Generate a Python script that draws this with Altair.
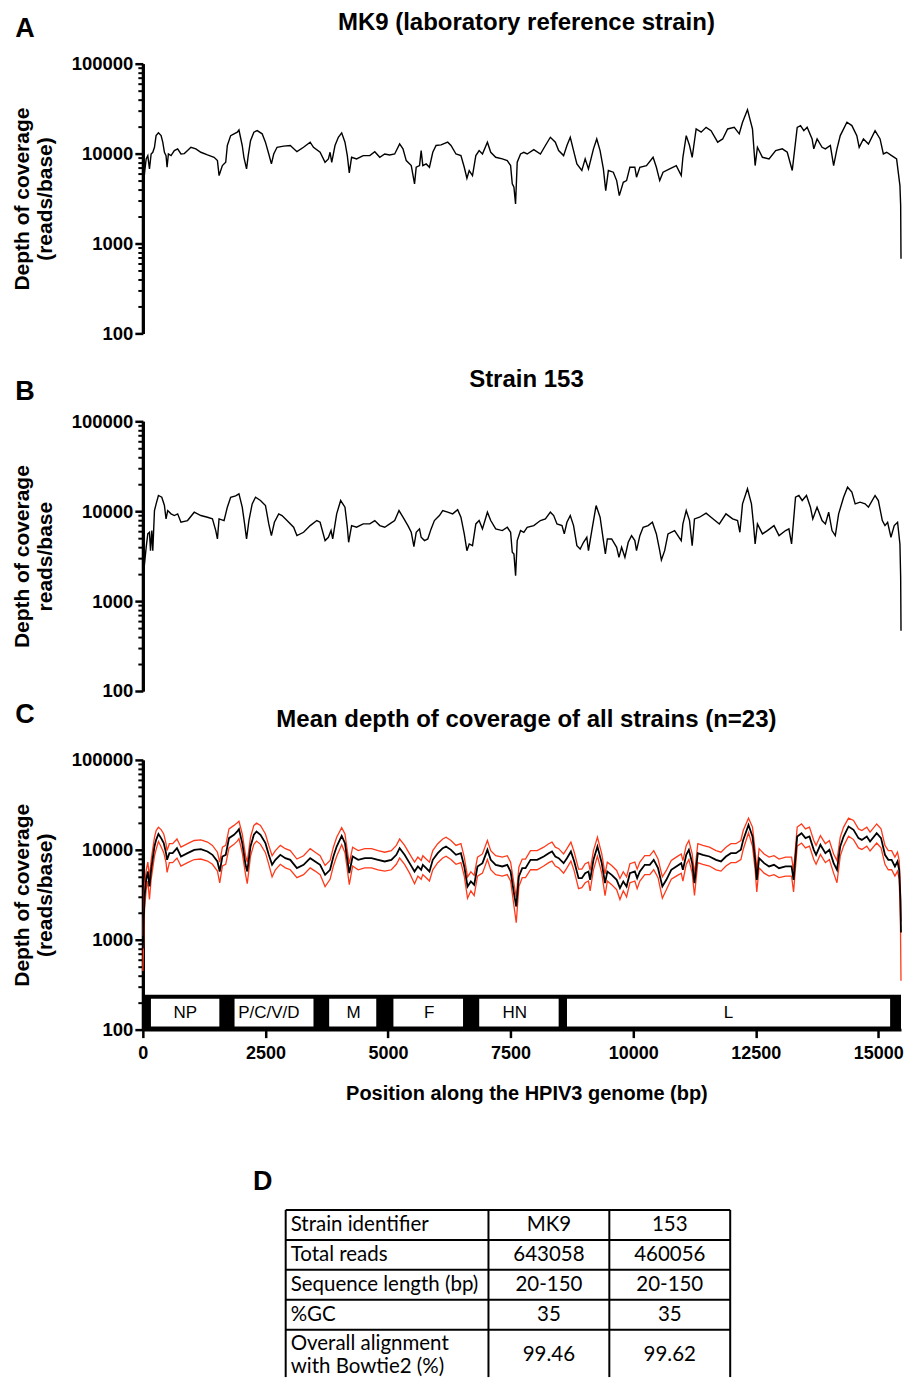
import altair as alt
import pandas as pd

# ---------------- data ----------------
# Panel A: MK9 (position bp, depth reads/base)
mk9_coverage = [
    (0, 3900), (40, 6500), (68, 8730), (101, 9500), (135, 6760), (169, 9900), (203, 10350),
    (237, 11750), (270, 15850), (318, 17000), (372, 15850), (406, 13400), (440, 10350),
    (473, 9500), (494, 7050), (521, 9900), (575, 9500), (642, 10800), (710, 11300),
    (777, 9900), (845, 10000), (912, 10800), (980, 11750), (1081, 11300), (1183, 10350),
    (1318, 9660), (1453, 9100), (1521, 8360), (1555, 5700), (1622, 7360), (1690, 8010),
    (1723, 12300), (1791, 15850), (1859, 16600), (1926, 17300), (1960, 18300), (2027, 12300),
    (2061, 9100), (2115, 6760), (2149, 9500), (2196, 13900), (2264, 17300), (2332, 18000),
    (2433, 16600), (2500, 13400), (2568, 9900), (2622, 7680), (2669, 9900), (2737, 11750),
    (2872, 12100), (3007, 12300), (3142, 10500), (3277, 11750), (3412, 13400), (3480, 11750),
    (3615, 10350), (3716, 8010), (3784, 8730), (3818, 10350), (3852, 8010), (3919, 12300),
    (3987, 15200), (4055, 17000), (4122, 13400), (4170, 9500), (4210, 6100), (4257, 9100),
    (4358, 8730), (4494, 9500), (4629, 9500), (4730, 10500), (4832, 9100), (4933, 9900),
    (5034, 9660), (5136, 9900), (5237, 12800), (5305, 11300), (5372, 8360), (5474, 7360),
    (5541, 4600), (5575, 7050), (5643, 7360), (5676, 10800), (5710, 7360), (5778, 7680),
    (5845, 7050), (5913, 10350), (5980, 12300), (6082, 12500), (6217, 13400), (6284, 12300),
    (6386, 9900), (6487, 9500), (6555, 7050), (6609, 5320), (6656, 6480), (6723, 5700),
    (6791, 9500), (6858, 10800), (6926, 9900), (7027, 13400), (7095, 10350), (7196, 9100),
    (7331, 8730), (7432, 8360), (7500, 7360), (7534, 4600), (7568, 4230), (7601, 2760),
    (7635, 8010), (7703, 9900), (7770, 10350), (7838, 9900), (7973, 11070), (8108, 9900),
    (8210, 12300), (8311, 15200), (8412, 13400), (8480, 10800), (8581, 9500), (8649, 12300),
    (8717, 15200), (8784, 10800), (8852, 7680), (8953, 6480), (9021, 8730), (9088, 6760),
    (9190, 11300), (9257, 14550), (9325, 10800), (9392, 6760), (9440, 3880), (9494, 6480),
    (9595, 6210), (9663, 5010), (9717, 3410), (9798, 4800), (9865, 5010), (9933, 7050),
    (10034, 7050), (10068, 5460), (10136, 7050), (10271, 7360), (10406, 9100), (10473, 7050),
    (10541, 5010), (10609, 6210), (10744, 6760), (10879, 7360), (10980, 5700), (11014, 9100),
    (11082, 15850), (11149, 12300), (11203, 9100), (11284, 18800), (11386, 17300),
    (11487, 19600), (11588, 18000), (11723, 13400), (11825, 14550), (11926, 18800),
    (12061, 19600), (12163, 16600), (12230, 22300), (12331, 30800), (12433, 18800),
    (12487, 7360), (12534, 11750), (12636, 9100), (12771, 8730), (12906, 10800),
    (13041, 11300), (13142, 10350), (13244, 6480), (13345, 19600), (13413, 20500),
    (13480, 18000), (13548, 19600), (13649, 14550), (13683, 11300), (13751, 14550),
    (13852, 11750), (13920, 11300), (14021, 12300), (14088, 7360), (14156, 11300),
    (14223, 15850), (14359, 22300), (14460, 20500), (14561, 15850), (14609, 11750),
    (14696, 14550), (14798, 12800), (14933, 18000), (15035, 14550), (15102, 9900),
    (15170, 10350), (15271, 9500), (15372, 8730), (15440, 4410), (15455, 2640), (15462, 676),
]

# Panel B: strain 153
s153_coverage = [
    (0, 1800), (34, 2590), (68, 3970), (101, 5590), (135, 5830), (156, 3640), (183, 6090),
    (203, 3640), (237, 10170), (271, 12070), (318, 14950), (386, 14300), (440, 11570),
    (473, 8210), (507, 10170), (575, 9340), (642, 8950), (710, 9340), (777, 7540),
    (912, 7870), (1048, 9750), (1183, 8950), (1318, 8570), (1419, 8210), (1487, 6090),
    (1521, 4910), (1554, 8210), (1656, 7870), (1723, 11080), (1791, 14300), (1892, 14800),
    (1960, 15600), (2027, 11080), (2075, 7220), (2115, 4910), (2163, 7870), (2230, 12070),
    (2298, 14300), (2399, 13150), (2501, 11570), (2568, 7220), (2622, 5350), (2683, 7540),
    (2771, 9340), (2838, 8950), (2940, 7870), (3075, 6630), (3142, 5350), (3278, 5830),
    (3413, 6920), (3548, 7870), (3615, 7540), (3717, 4710), (3784, 5130), (3838, 6090),
    (3872, 4910), (3953, 9340), (4034, 13150), (4122, 11080), (4170, 6630), (4197, 4510),
    (4257, 6920), (4359, 6630), (4494, 7220), (4629, 7220), (4730, 7870), (4832, 6920),
    (4933, 6630), (5035, 7220), (5136, 7870), (5224, 10170), (5305, 8570), (5406, 6920),
    (5474, 5830), (5528, 4040), (5575, 5830), (5642, 6360), (5676, 5130), (5744, 4710),
    (5811, 4910), (5879, 6360), (5946, 7870), (6048, 8950), (6116, 10170), (6217, 9750),
    (6318, 9340), (6420, 10400), (6487, 8570), (6555, 5590), (6609, 3640), (6656, 4320),
    (6723, 4140), (6791, 7220), (6858, 7870), (6926, 6360), (7027, 9750), (7095, 7870),
    (7196, 6360), (7331, 6090), (7433, 6630), (7500, 5830), (7534, 3490), (7568, 3340),
    (7602, 1920), (7635, 4710), (7703, 6090), (7770, 5830), (7838, 6630), (7973, 6920),
    (8108, 7870), (8210, 8210), (8311, 9750), (8379, 8950), (8446, 7220), (8548, 6920),
    (8595, 5590), (8649, 7540), (8717, 8950), (8784, 6920), (8852, 4140), (8919, 3800),
    (8987, 4510), (9054, 5130), (9088, 3640), (9156, 6090), (9244, 11570), (9325, 8570),
    (9393, 4710), (9433, 3340), (9473, 4910), (9561, 4910), (9663, 3970), (9710, 3070),
    (9764, 3970), (9831, 3070), (9899, 4510), (9967, 5350), (10034, 4710), (10068, 3640),
    (10136, 5350), (10203, 6630), (10305, 6920), (10392, 7540), (10473, 5590), (10541, 3640),
    (10575, 2860), (10642, 3640), (10710, 5590), (10845, 6090), (10980, 4710), (11014, 7220),
    (11082, 10170), (11149, 7870), (11203, 4140), (11250, 8210), (11352, 8570), (11487, 9500),
    (11588, 8570), (11757, 7220), (11892, 9340), (12028, 8210), (12129, 7870), (12176, 5830),
    (12230, 12070), (12331, 17750), (12412, 12070), (12453, 7220), (12487, 4320),
    (12534, 7220), (12636, 5590), (12737, 6090), (12872, 6920), (12974, 5350), (13109, 6090),
    (13176, 6360), (13230, 4320), (13311, 14300), (13379, 14950), (13447, 13150),
    (13534, 14950), (13615, 11080), (13663, 8210), (13750, 11080), (13852, 7870),
    (13920, 7220), (13987, 9750), (14055, 6090), (14122, 5350), (14190, 9340), (14291, 14300),
    (14372, 18500), (14460, 16300), (14527, 12070), (14629, 12600), (14730, 12070),
    (14798, 11080), (14933, 14950), (15000, 13150), (15081, 7870), (15135, 6920),
    (15189, 7540), (15257, 5130), (15324, 6920), (15392, 7540), (15440, 4320), (15455, 1840),
    (15462, 467),
]

# Panel C: mean of all strains with the red band lines
c_pos = [
    0, 34, 68, 101, 135, 169, 203, 237, 271, 318,
    372, 426, 473, 494, 541, 608, 696, 777, 912, 1048,
    1183, 1318, 1419, 1521, 1568, 1622, 1690, 1757, 1859, 1926,
    1960, 2027, 2095, 2129, 2196, 2264, 2318, 2399, 2500, 2568,
    2636, 2703, 2804, 2906, 3007, 3142, 3278, 3413, 3514, 3615,
    3717, 3818, 3886, 3953, 4055, 4122, 4170, 4210, 4278, 4392,
    4527, 4663, 4798, 4933, 5068, 5170, 5237, 5338, 5440, 5541,
    5609, 5676, 5710, 5778, 5845, 5913, 6014, 6116, 6183, 6284,
    6386, 6487, 6555, 6622, 6690, 6757, 6825, 6926, 7027, 7095,
    7196, 7331, 7432, 7500, 7568, 7615, 7669, 7737, 7804, 7906,
    8041, 8176, 8277, 8345, 8412, 8480, 8581, 8649, 8730, 8798,
    8886, 8953, 9021, 9088, 9122, 9190, 9271, 9359, 9426, 9473,
    9561, 9663, 9730, 9798, 9865, 9933, 10034, 10081, 10136, 10237,
    10338, 10419, 10507, 10595, 10676, 10777, 10879, 10980, 11014, 11082,
    11136, 11203, 11250, 11318, 11419, 11555, 11690, 11791, 11892, 11994,
    12095, 12196, 12244, 12352, 12433, 12487, 12521, 12568, 12670, 12771,
    12872, 12974, 13109, 13230, 13271, 13345, 13433, 13514, 13595, 13683,
    13730, 13818, 13920, 14001, 14088, 14156, 14223, 14291, 14392, 14494,
    14595, 14663, 14764, 14831, 14966, 15055, 15135, 15203, 15271, 15338,
    15390, 15425, 15450, 15462,
]
c_mean = [
    800, 3000, 4640, 5740, 3910, 5990, 8080, 10890, 12900, 15000,
    13490, 11860, 9180, 7740, 9180, 9180, 10430, 8430, 9180, 10000,
    10170, 9580, 8800, 7420, 5740, 8430, 8800, 13490, 14700, 16000,
    17000, 11860, 6810, 5740, 10890, 14700, 16000, 14700, 11860, 8800,
    6810, 7740, 8800, 8080, 7740, 6250, 6810, 8080, 7420, 6810,
    5270, 5990, 8430, 10890, 14300, 11860, 7740, 5500, 8430, 7740,
    8080, 8080, 7740, 7420, 7740, 8800, 10430, 8800, 7110, 5740,
    6530, 5990, 6810, 6250, 5740, 7740, 9180, 10430, 10890, 10000,
    8800, 9180, 6530, 3910, 4450, 4080, 6530, 7110, 10000, 7740,
    6810, 6530, 6810, 5740, 3300, 2340, 5050, 6250, 6250, 7740,
    7740, 8430, 9180, 9580, 8430, 8080, 7110, 8080, 9580, 7420,
    4840, 4840, 5500, 5740, 4640, 7740, 10890, 7110, 4260, 5740,
    5270, 4640, 3750, 4450, 3910, 5500, 5740, 4840, 5740, 6810,
    6810, 7740, 6250, 3910, 4640, 5990, 6530, 7110, 5990, 8800,
    10000, 7110, 4260, 9180, 8800, 8430, 7740, 7420, 8430, 9180,
    9180, 10000, 12900, 18900, 14060, 7740, 4640, 8080, 7110, 6530,
    6810, 6250, 6530, 6530, 4640, 14060, 15300, 13490, 14060, 10000,
    8800, 11370, 9180, 10000, 7110, 5990, 10890, 14060, 18200, 16700,
    13490, 12900, 14060, 12380, 15300, 13490, 8800, 7740, 7740, 6530,
    7420, 5990, 2780, 1200,
]
c_upper = [
    1100, 4000, 5900, 7300, 5000, 7600, 10300, 13800, 16400, 17800,
    16800, 15000, 11700, 9800, 11700, 11700, 13200, 10700, 11700, 12700,
    12900, 12200, 11200, 9400, 7300, 10700, 11200, 17100, 18700, 20000,
    20800, 15000, 8600, 7300, 13800, 18700, 19800, 18700, 15000, 11200,
    8600, 9800, 11200, 10300, 9800, 7900, 8600, 10300, 9400, 8600,
    6700, 7600, 10700, 13800, 17600, 15000, 9800, 7000, 10700, 9800,
    10300, 10300, 9800, 9400, 9800, 11200, 13200, 11200, 9000, 7300,
    8300, 7600, 8600, 7900, 7300, 9800, 11700, 13200, 13800, 12700,
    11200, 11700, 8300, 5000, 5700, 5200, 8300, 9000, 12700, 9800,
    8600, 8300, 8600, 7300, 4200, 3000, 6400, 7900, 7900, 9800,
    9800, 10700, 11700, 12200, 10700, 10300, 9000, 10300, 12200, 9400,
    6100, 6100, 7000, 7300, 5900, 9800, 13800, 9000, 5400, 7300,
    6700, 5900, 4800, 5700, 5000, 7000, 7300, 6100, 7300, 8600,
    8600, 9800, 7900, 5000, 5900, 7600, 8300, 9000, 7600, 11200,
    12700, 9000, 5400, 11700, 11200, 10700, 9800, 9400, 10700, 11700,
    11700, 12700, 16400, 22500, 17900, 9800, 5900, 10300, 9000, 8300,
    8600, 7900, 8300, 8300, 5900, 17900, 19400, 17100, 17900, 12700,
    11200, 14400, 11700, 12700, 9000, 7600, 13800, 17900, 22500, 21200,
    17100, 16400, 17900, 15700, 19400, 17100, 11200, 9800, 9800, 8300,
    9400, 7600, 3600, 1600,
]
c_lower = [
    450, 2200, 3600, 4500, 2800, 4700, 6300, 8500, 10100, 12400,
    10800, 9300, 7200, 5600, 7200, 7200, 8100, 6600, 7200, 7800,
    7900, 7500, 6900, 5800, 4300, 6600, 6900, 10500, 11500, 12500,
    13300, 9300, 5300, 4200, 8500, 11500, 12500, 11500, 9300, 6900,
    5000, 6000, 6900, 6300, 6000, 4900, 5300, 6300, 5800, 5300,
    3900, 4700, 6600, 8500, 11400, 9300, 6000, 4100, 6600, 6000,
    6300, 6300, 6000, 5800, 6000, 6900, 8100, 6900, 5500, 4200,
    5100, 4700, 5300, 4900, 4500, 6000, 7200, 8100, 8500, 7800,
    6900, 7200, 5100, 2900, 3500, 3100, 5100, 5500, 7800, 6000,
    5300, 5100, 5300, 4500, 2400, 1550, 3900, 4900, 4900, 6000,
    6000, 6600, 7200, 7500, 6600, 6300, 5500, 6300, 7500, 5800,
    3700, 3800, 4300, 4500, 3500, 6000, 8500, 5500, 3100, 4500,
    4100, 3600, 2800, 3500, 3000, 4300, 4500, 3700, 4500, 5300,
    5300, 6000, 4900, 2900, 3600, 4700, 5100, 5500, 4500, 6900,
    7800, 5500, 3100, 7200, 6900, 6600, 6000, 5800, 6600, 7200,
    7200, 7800, 10100, 15500, 11000, 6000, 3400, 6300, 5500, 5100,
    5300, 4900, 5100, 5100, 3400, 11000, 11900, 10500, 11000, 7800,
    6900, 8900, 7200, 7800, 5500, 4300, 8500, 11000, 14200, 13000,
    10500, 10100, 11000, 9700, 11900, 10500, 6900, 6000, 6000, 5100,
    5800, 4700, 1700, 350,
]

# Genome map (bp)
gene_names = ["NP", "P/C/V/D", "M", "F", "HN", "L"]
gene_start = [165, 1870, 3800, 5110, 6860, 8650]
gene_end = [1560, 3480, 4760, 6530, 8480, 15240]
gene_label_pos = [865, 2568, 4297, 5838, 7583, 11945]
GENOME_LEN = 15462

# Ticks
x_ticks = [0, 2500, 5000, 7500, 10000, 12500, 15000]
y_major = [100, 1000, 10000, 100000]
y_minor = [200, 300, 400, 500, 600, 700, 800, 900,
           2000, 3000, 4000, 5000, 6000, 7000, 8000, 9000,
           20000, 30000, 40000, 50000, 60000, 70000, 80000, 90000]

# Table D
table_rows = ["Strain identifier", "Total reads", "Sequence length (bp)", "%GC",
              "Overall alignment\nwith Bowtie2 (%)"]
table_mk9 = ["MK9", "643058", "20-150", "35", "99.46"]
table_153 = ["153", "460056", "20-150", "35", "99.62"]

# ---------------- layout / style ----------------
FONT = "Liberation Sans"
TFONT = "Lato"
W, H = 759, 270
LEFT = 135
TITLE_X = 384
RED = "#ff3a1a"

x_scale = alt.Scale(domain=[0, GENOME_LEN], nice=False, zero=False)
y_scale = alt.Scale(type="log", domain=[100, 100000], nice=False)


def y_major_axis(lines):
    return alt.Axis(values=y_major, format="d", orient="left", grid=False,
                    domainColor="black", domainWidth=3,
                    tickColor="black", tickSize=8, tickWidth=2.5,
                    labelFont=FONT, labelFontSize=18.5, labelFontWeight="bold",
                    labelColor="black", labelPadding=2, labelFlush=False,
                    labelOverlap=False,
                    title=lines, titleFont=FONT, titleFontSize=21,
                    titleFontWeight="bold", titleColor="black", titleLineHeight=23,
                    titleAngle=270, titleAlign="center", titleBaseline="middle",
                    titleX=-120.5, titleY=H / 2)


y_minor_axis = alt.Axis(values=y_minor, orient="left", grid=False, labels=False,
                        title=None, domainColor="black", domainWidth=3,
                        tickColor="black", tickSize=5, tickWidth=2)

x_axis_c = alt.Axis(values=x_ticks, format="d", grid=False, domainColor="black",
                    domainWidth=3, tickColor="black", tickSize=8, tickWidth=2.5,
                    labelFont=FONT, labelFontSize=18, labelFontWeight="bold",
                    labelColor="black", labelPadding=7, labelFlush=False,
                    labelOverlap=False,
                    title="Position along the HPIV3 genome (bp)", titleFont=FONT,
                    titleFontSize=20, titleFontWeight="bold", titleColor="black",
                    titleBaseline="middle", titleX=TITLE_X, titleY=64)


def one_row(**kw):
    return pd.DataFrame({k: [v] for k, v in kw.items()})


def text_layer(text, x, y, size, weight="bold"):
    return alt.Chart(one_row(t=text)).mark_text(
        font=FONT, fontSize=size, fontWeight=weight, align="center",
        baseline="middle", color="black").encode(
        text="t:N", x=alt.value(x), y=alt.value(y))


def spacer(y):
    return alt.Chart(one_row(s=0)).mark_rule(opacity=0, strokeWidth=1).encode(
        x=alt.value(-LEFT), x2=alt.value(W), y=alt.value(y))


def line(df, field, color, width, yaxis, xaxis=None):
    return alt.Chart(df).mark_line(color=color, strokeWidth=width).encode(
        x=alt.X("pos:Q", scale=x_scale, axis=xaxis),
        y=alt.Y(f"{field}:Q", scale=y_scale, axis=yaxis))


def single_panel(points, title, ytitle, letter, letter_y, top, bottom):
    df = pd.DataFrame(points, columns=["pos", "depth"])
    return alt.layer(
        line(df, "depth", "black", 1.4, y_major_axis(ytitle)),
        line(df, "depth", "transparent", 1, y_minor_axis),
        text_layer(title, TITLE_X, -41, 24),
        text_layer(letter, -118, letter_y, 27),
        spacer(top), spacer(bottom),
    ).resolve_axis(y="independent").properties(width=W, height=H)


panel_a = single_panel(mk9_coverage, "MK9 (laboratory reference strain)",
                       ["Depth of coverage", "(reads/base)"], "A", -35, -55, H + 32.5)
panel_b = single_panel(s153_coverage, "Strain 153",
                       ["Depth of coverage", "reads/base"], "B", -29, -55, H + 10)

# Panel C
df_c = pd.DataFrame({"pos": c_pos, "mean": c_mean, "upper": c_upper, "lower": c_lower})
df_genes = pd.DataFrame({"name": gene_names, "start": gene_start, "end": gene_end,
                         "lab": gene_label_pos})
df_genes["lo"] = 108
df_genes["hi"] = 220
df_genes["ly"] = 155
df_band = one_row(x0=0, x1=GENOME_LEN, y0=100, y1=245)

band = alt.Chart(df_band).mark_rect(color="black").encode(
    x=alt.X("x0:Q", scale=x_scale, axis=None), x2="x1:Q",
    y=alt.Y("y0:Q", scale=y_scale, axis=None), y2="y1:Q")
boxes = alt.Chart(df_genes).mark_rect(color="white").encode(
    x=alt.X("start:Q", scale=x_scale, axis=None), x2="end:Q",
    y=alt.Y("lo:Q", scale=y_scale, axis=None), y2="hi:Q")
labels = alt.Chart(df_genes).mark_text(font=FONT, fontSize=17, color="black",
                                       baseline="middle", align="center").encode(
    x=alt.X("lab:Q", scale=x_scale, axis=None),
    y=alt.Y("ly:Q", scale=y_scale, axis=None), text="name:N")

panel_c = alt.layer(
    band, boxes, labels,
    line(df_c, "lower", RED, 1.3, None),
    line(df_c, "upper", RED, 1.3, y_minor_axis),
    line(df_c, "mean", "black", 1.8, y_major_axis(["Depth of coverage", "(reads/base)"]),
         xaxis=x_axis_c),
    text_layer("Mean depth of coverage of all strains (n=23)", TITLE_X, -40, 24),
    text_layer("C", -118, -45, 27),
    spacer(-58), spacer(H + 80),
).resolve_axis(x="independent", y="independent").properties(width=W, height=H)

# Panel D: table
HD = 268
T_LEFT, ROW_TOP = 143, 100.5
col_w = [203, 121, 121]
row_h = [30, 30, 30, 30, 51]
LINE_H = 23
col_edges = [T_LEFT]
for w in col_w:
    col_edges.append(col_edges[-1] + w)
row_edges = [ROW_TOP]
for h in row_h:
    row_edges.append(row_edges[-1] + h)
row_mid = [(row_edges[i] + row_edges[i + 1]) / 2 for i in range(len(row_h))]
# first line of a wrapped label sits at the anchor, the next lines below it
row_first = [row_mid[i] - (t.count("\n") * LINE_H) / 2 for i, t in enumerate(table_rows)]

tx = alt.Scale(domain=[0, W], nice=False, zero=False)
ty = alt.Scale(domain=[0, HD], reverse=True, nice=False, zero=False)

df_hl = pd.DataFrame({"y": row_edges[:-1], "x0": col_edges[0], "x1": col_edges[-1]})
df_vl = pd.DataFrame({"x": col_edges, "y0": ROW_TOP, "y1": HD})
df_left = pd.DataFrame({"t": table_rows, "x": col_edges[0] + 5, "y": row_first})
df_center = pd.DataFrame({
    "t": table_mk9 + table_153,
    "x": [(col_edges[1] + col_edges[2]) / 2] * 5 + [(col_edges[2] + col_edges[3]) / 2] * 5,
    "y": row_mid * 2,
})

hlines = alt.Chart(df_hl).mark_rule(color="black", strokeWidth=2).encode(
    x=alt.X("x0:Q", scale=tx, axis=None), x2="x1:Q",
    y=alt.Y("y:Q", scale=ty, axis=None))
vlines = alt.Chart(df_vl).mark_rule(color="black", strokeWidth=2, clip=True).encode(
    x=alt.X("x:Q", scale=tx, axis=None),
    y=alt.Y("y0:Q", scale=ty, axis=None), y2="y1:Q")
txt_left = alt.Chart(df_left).mark_text(
    font=TFONT, fontSize=20.5, align="left", baseline="middle", color="black",
    lineBreak="\n", lineHeight=LINE_H, clip=True).encode(
    x=alt.X("x:Q", scale=tx, axis=None), y=alt.Y("y:Q", scale=ty, axis=None), text="t:N")
txt_center = alt.Chart(df_center).mark_text(
    font=TFONT, fontSize=20.5, align="center", baseline="middle", color="black",
    clip=True).encode(
    x=alt.X("x:Q", scale=tx, axis=None), y=alt.Y("y:Q", scale=ty, axis=None), text="t:N")

panel_d = alt.layer(
    hlines, vlines, txt_left, txt_center,
    text_layer("D", 120, 72.5, 27),
).properties(width=W, height=HD)

chart = alt.vconcat(panel_a, panel_b, panel_c, panel_d, spacing=0).properties(
    padding={"left": 0, "top": 0, "right": 0, "bottom": 0}
).configure_view(strokeWidth=0)

chart.save("out.html", embed_options={"renderer": "svg", "actions": False})
